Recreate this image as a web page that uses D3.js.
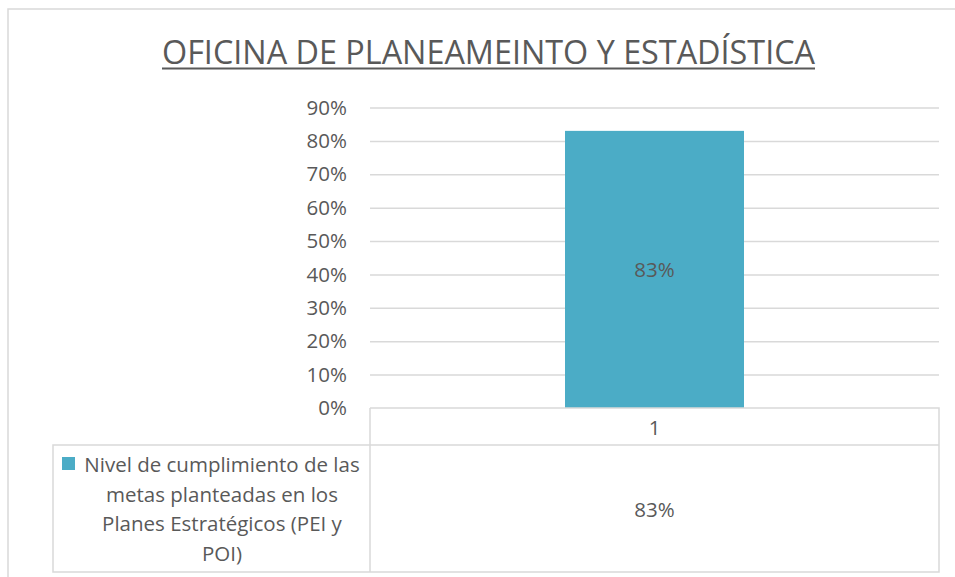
<!DOCTYPE html>
<html>
<head>
<meta charset="utf-8">
<script src="https://cdn.jsdelivr.net/npm/d3@7"></script>
<style>
  body { margin: 0; background: #fff; }
  text { font-family: "Open Sans", "Noto Sans", sans-serif; fill: #595959; }
  .grid line { stroke: #d9d9d9; stroke-width: 1.5; }
  .grid .domain { display: none; }
  .axis .domain { display: none; }
</style>
</head>
<body>
<svg width="955" height="577"></svg>
<script>
// chart data
var title = "OFICINA DE PLANEAMEINTO Y ESTADÍSTICA";
var categories = ["1"];
var values = [0.83];
var seriesLines = ["Nivel de cumplimiento de las", "metas planteadas en los", "Planes Estratégicos (PEI y", "POI)"];
var yTicks = [0, 0.1, 0.2, 0.3, 0.4, 0.5, 0.6, 0.7, 0.8, 0.9];

var svg = d3.select("svg");
var color = "#4bacc6";
var border = "#d9d9d9";
var fs = 20.5;

// outer chart frame (runs off right and bottom)
svg.append("path")
    .attr("d", "M8,580 L8,9 L960,9")
    .attr("fill", "none")
    .attr("stroke", border)
    .attr("stroke-width", 1.5);

// title
svg.append("text")
    .attr("x", 162)
    .attr("y", 64)
    .attr("font-size", 32)
    .attr("textLength", 653)
    .attr("lengthAdjust", "spacingAndGlyphs")
    .text(title);
svg.append("line")
    .attr("x1", 162).attr("x2", 815)
    .attr("y1", 68.5).attr("y2", 68.5)
    .attr("stroke", "#595959")
    .attr("stroke-width", 2);

var plotLeft = 370, plotRight = 939, plotTop = 107.5, plotBottom = 408;
var tableMid = 445, tableBottom = 572, legendLeft = 53;

var x = d3.scaleBand().domain(categories).range([plotLeft, plotRight]).padding(0.5214);
var y = d3.scaleLinear().domain([0, 0.9]).range([plotBottom, plotTop]);

// gridlines
svg.append("g")
    .attr("class", "grid")
    .attr("transform", "translate(" + plotLeft + ",0)")
    .call(d3.axisLeft(y).tickValues(yTicks.slice(1)).tickSize(-(plotRight - plotLeft)).tickFormat(""));

// y axis labels
var yAxis = svg.append("g")
    .attr("class", "axis")
    .attr("transform", "translate(" + (plotLeft - 23) + ",0)")
    .call(d3.axisLeft(y).tickValues(yTicks).tickSize(0).tickPadding(0).tickFormat(d3.format(".0%")));
yAxis.selectAll("text")
    .attr("font-size", fs)
    .attr("font-family", "'Open Sans', sans-serif")
    .attr("fill", "#595959");

// bars
svg.selectAll(".bar")
    .data(values)
    .enter().append("rect")
    .attr("class", "bar")
    .attr("x", function(d, i) { return x(categories[i]); })
    .attr("width", x.bandwidth())
    .attr("y", function(d) { return y(d); })
    .attr("height", function(d) { return plotBottom - y(d); })
    .attr("fill", color);

// data labels
svg.selectAll(".lbl")
    .data(values)
    .enter().append("text")
    .attr("class", "lbl")
    .attr("x", function(d, i) { return x(categories[i]) + x.bandwidth() / 2; })
    .attr("y", function(d) { return (y(d) + plotBottom) / 2; })
    .attr("text-anchor", "middle")
    .attr("dominant-baseline", "central")
    .attr("font-size", fs)
    .text(function(d) { return d3.format(".0%")(d); });

// data table
var tg = svg.append("g").attr("stroke", border).attr("stroke-width", 1.5).attr("fill", "none");
tg.append("path").attr("d",
    "M" + plotLeft + "," + plotBottom + " L" + plotRight + "," + plotBottom +
    " L" + plotRight + "," + tableBottom + " L" + legendLeft + "," + tableBottom +
    " L" + legendLeft + "," + tableMid + " L" + plotRight + "," + tableMid +
    " M" + plotLeft + "," + plotBottom + " L" + plotLeft + "," + tableBottom);

// category row
svg.selectAll(".cat")
    .data(categories)
    .enter().append("text")
    .attr("class", "cat")
    .attr("x", function(d) { return x(d) + x.bandwidth() / 2; })
    .attr("y", (plotBottom + tableMid) / 2)
    .attr("text-anchor", "middle")
    .attr("dominant-baseline", "central")
    .attr("font-size", fs)
    .text(function(d) { return d; });

// value row
svg.selectAll(".val")
    .data(values)
    .enter().append("text")
    .attr("class", "val")
    .attr("x", function(d, i) { return x(categories[i]) + x.bandwidth() / 2; })
    .attr("y", (tableMid + tableBottom) / 2)
    .attr("text-anchor", "middle")
    .attr("dominant-baseline", "central")
    .attr("font-size", fs)
    .text(function(d) { return d3.format(".0%")(d); });

// legend key + series name
svg.append("rect")
    .attr("x", 62).attr("y", 457)
    .attr("width", 13).attr("height", 13)
    .attr("fill", color);
svg.selectAll(".leg")
    .data(seriesLines)
    .enter().append("text")
    .attr("class", "leg")
    .attr("x", 222)
    .attr("y", function(d, i) { return 464 + i * 29.7; })
    .attr("text-anchor", "middle")
    .attr("dominant-baseline", "central")
    .attr("font-size", fs)
    .text(function(d) { return d; });
</script>
</body>
</html>
